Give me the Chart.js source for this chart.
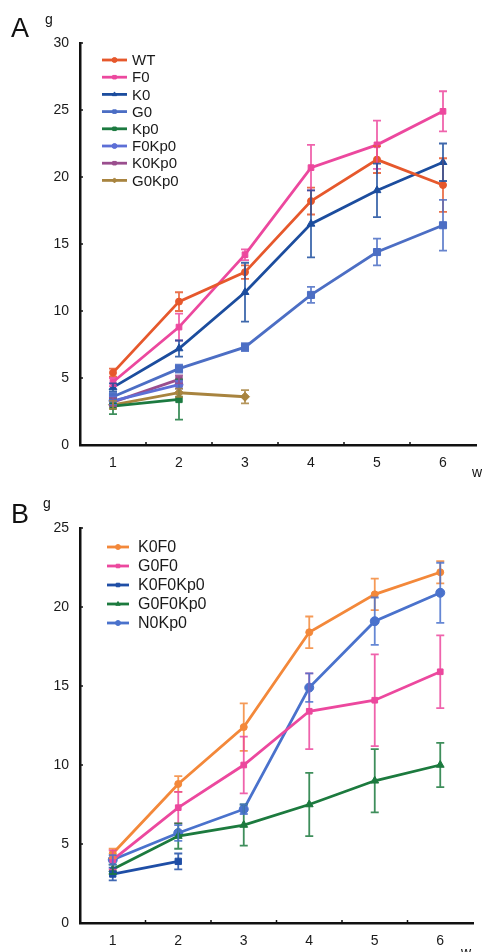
<!DOCTYPE html>
<html>
<head>
<meta charset="utf-8">
<script src="https://cdn.jsdelivr.net/npm/chart.js@4.4.0/dist/chart.umd.min.js"></script>
<style>
  html, body { margin: 0; padding: 0; background: #fff; }
  body { width: 482px; height: 952px; position: relative; overflow: hidden; }
  .box { position: absolute; left: 0; width: 482px; }
  #boxA { top: 0; height: 480px; }
  #boxB { top: 480px; height: 472px; }
</style>
</head>
<body>
<div class="box" id="boxA"><canvas id="chartA"></canvas></div>
<div class="box" id="boxB"><canvas id="chartB"></canvas></div>
<script>
// weeks on the x axis
const weeks = ['1', '2', '3', '4', '5', '6'];

// panel A: body weight (g), mean and error
const wt = [5.4, 10.7, 12.9, 18.2, 21.3, 19.4];
const wtErr = [0.3, 0.7, 0.5, 1.0, 1.0, 2.0];
const f0 = [4.7, 8.8, 14.2, 20.7, 22.4, 24.9];
const f0Err = [0.3, 1.0, 0.4, 1.7, 1.8, 1.5];
const k0 = [4.3, 7.2, 11.4, 16.5, 19.0, 21.1];
const k0Err = [0.3, 0.6, 2.2, 2.5, 2.0, 1.4];
const g0 = [3.6, 5.7, 7.3, 11.2, 14.4, 16.4];
const g0Err = [0.3, 0.3, 0.3, 0.6, 1.0, 1.9];
const kp0 = [2.9, 3.4, null, null, null, null];
const kp0Err = [0.6, 1.5, 0, 0, 0, 0];
const f0kp0 = [3.3, 4.5, null, null, null, null];
const f0kp0Err = [0.3, 0.3, 0, 0, 0, 0];
const k0kp0 = [3.2, 4.9, null, null, null, null];
const k0kp0Err = [0.3, 0.3, 0, 0, 0, 0];
const g0kp0 = [3.0, 3.9, 3.6, null, null, null];
const g0kp0Err = [0.3, 0.3, 0.5, 0, 0, 0];

// panel B
const k0f0 = [4.4, 8.8, 12.4, 18.4, 20.8, 22.2];
const k0f0Err = [0.3, 0.5, 1.5, 1.0, 1.0, 0.7];
const g0f0 = [4.0, 7.3, 10.0, 13.4, 14.1, 15.9];
const g0f0Err = [0.6, 1.0, 1.8, 2.4, 2.9, 2.3];
const k0f0kp0 = [3.1, 3.9, null, null, null, null];
const k0f0kp0Err = [0.4, 0.5, 0, 0, 0, 0];
const g0f0kp0 = [3.4, 5.5, 6.2, 7.5, 9.0, 10.0];
const g0f0kp0Err = [0.3, 0.8, 1.3, 2.0, 2.0, 1.4];
const n0kp0 = [4.0, 5.7, 7.2, 14.9, 19.1, 20.9];
const n0kp0Err = [0.3, 0.5, 0.3, 0.9, 1.5, 1.9];

const FONT = '"Liberation Sans", Arial, sans-serif';

function series(label, data, errors, color, style, radius) {
  return {
    label, data, errors,
    borderColor: color,
    backgroundColor: color,
    borderWidth: 2.8,
    pointStyle: style,
    pointRadius: radius || 4,
    pointBorderWidth: 1,
    spanGaps: false,
    tension: 0
  };
}

// vertical error bars drawn through the chart scales
const errorBars = {
  id: 'errorBars',
  afterDatasetsDraw(chart) {
    const { ctx, scales: { x, y } } = chart;
    chart.data.datasets.forEach(ds => {
      if (!ds.errors) return;
      ctx.save();
      ctx.strokeStyle = ds.borderColor;
      ctx.globalAlpha = 0.85;
      ctx.lineWidth = 1.8;
      ds.data.forEach((v, j) => {
        const e = ds.errors[j];
        if (v == null || !e) return;
        const px = x.getPixelForValue(j);
        const top = y.getPixelForValue(v + e);
        const bot = y.getPixelForValue(v - e);
        ctx.beginPath();
        ctx.moveTo(px, top); ctx.lineTo(px, bot);
        ctx.moveTo(px - 4, top); ctx.lineTo(px + 4, top);
        ctx.moveTo(px - 4, bot); ctx.lineTo(px + 4, bot);
        ctx.stroke();
      });
      ctx.restore();
    });
  }
};

// legend inside the plot, inward ticks, panel letter and unit labels
const decorations = {
  id: 'decorations',
  afterDraw(chart, args, opts) {
    const { ctx, chartArea, scales: { x, y } } = chart;
    ctx.save();
    // inward tick marks
    ctx.strokeStyle = '#111';
    ctx.lineWidth = 1.5;
    y.ticks.forEach(t => {
      const py = y.getPixelForValue(t.value);
      ctx.beginPath();
      ctx.moveTo(chartArea.left, py);
      ctx.lineTo(chartArea.left + 3, py);
      ctx.stroke();
    });
    for (let i = 1; i < weeks.length; i++) {
      const px = (x.getPixelForValue(i - 1) + x.getPixelForValue(i)) / 2;
      ctx.beginPath();
      ctx.moveTo(px, chartArea.bottom);
      ctx.lineTo(px, chartArea.bottom - 3);
      ctx.stroke();
    }
    // legend
    const lg = opts.legend;
    ctx.font = lg.size + 'px ' + FONT;
    ctx.textBaseline = 'middle';
    chart.data.datasets.forEach((ds, i) => {
      const ly = lg.y + i * lg.gap;
      ctx.strokeStyle = ds.borderColor;
      ctx.fillStyle = ds.borderColor;
      ctx.lineWidth = 2.8;
      ctx.beginPath();
      ctx.moveTo(lg.x, ly);
      ctx.lineTo(lg.x + lg.len, ly);
      ctx.stroke();
      ctx.lineWidth = 1;
      Chart.helpers.drawPoint(ctx, { pointStyle: ds.pointStyle, radius: 2.5, rotation: 0, borderWidth: 1 }, lg.x + lg.len / 2, ly);
      ctx.fillStyle = '#1a1a1a';
      ctx.fillText(ds.label, lg.x + lg.len + lg.textGap, ly + 1);
    });
    // panel letter and units
    ctx.fillStyle = '#111';
    ctx.textBaseline = 'alphabetic';
    ctx.font = '27px ' + FONT;
    ctx.fillText(opts.letter, opts.letterX, opts.letterY);
    ctx.font = '14px ' + FONT;
    ctx.fillText('g', opts.gX, opts.gY);
    ctx.fillText('w', opts.wX, opts.wY);
    ctx.restore();
  }
};

function makeChart(id, datasets, yMax, pad, xHeight, deco) {
  return new Chart(document.getElementById(id), {
    type: 'line',
    data: { labels: weeks, datasets },
    plugins: [errorBars, decorations],
    options: {
      responsive: true,
      maintainAspectRatio: false,
      animation: false,
      layout: { padding: pad },
      plugins: {
        legend: { display: false },
        tooltip: { enabled: false },
        decorations: deco
      },
      scales: {
        x: {
          type: 'category',
          offset: true,
          grid: { display: false, drawTicks: false },
          border: { display: true, color: '#111', width: 2.5 },
          ticks: { color: '#1a1a1a', padding: 10, font: { family: FONT, size: 14 } },
          afterFit(scale) { scale.height = xHeight; }
        },
        y: {
          min: 0,
          max: yMax,
          grid: { display: false, drawTicks: false },
          border: { display: true, color: '#111', width: 2.5 },
          ticks: { stepSize: 5, color: '#1a1a1a', padding: 11, font: { family: FONT, size: 14 } },
          afterFit(scale) { scale.width = 80; }
        }
      }
    }
  });
}

makeChart('chartA', [
  series('WT', wt, wtErr, '#e6582c', 'circle', 3.5),
  series('F0', f0, f0Err, '#ec489e', 'rect', 4),
  series('K0', k0, k0Err, '#1c4d9e', 'triangle', 4.5),
  series('G0', g0, g0Err, '#4c6ec4', 'rect', 5),
  series('Kp0', kp0, kp0Err, '#1c7a40', 'rect', 4.5),
  series('F0Kp0', f0kp0, f0kp0Err, '#5d6fd6', 'circle', 4),
  series('K0Kp0', k0kp0, k0kp0Err, '#9a4e8e', 'rect', 4.5),
  series('G0Kp0', g0kp0, g0kp0Err, '#a8843f', 'rectRot', 4.5)
], 30, { top: 43, right: 2, left: 0, bottom: 0 }, 35, {
  legend: { x: 102, y: 60, gap: 17.2, len: 25, textGap: 5, size: 15 },
  letter: 'A', letterX: 11, letterY: 37,
  gX: 45, gY: 24, wX: 472, wY: 477
});

makeChart('chartB', [
  series('K0F0', k0f0, k0f0Err, '#f3883a', 'circle', 3.5),
  series('G0F0', g0f0, g0f0Err, '#ec489e', 'rect', 4),
  series('K0F0Kp0', k0f0kp0, k0f0kp0Err, '#1f4ea6', 'rect', 4.5),
  series('G0F0Kp0', g0f0kp0, g0f0kp0Err, '#1c7a3e', 'triangle', 4.5),
  series('N0Kp0', n0kp0, n0kp0Err, '#4a72cc', 'circle', 4.5)
], 25, { top: 48, right: 9, left: 0, bottom: 0 }, 29, {
  legend: { x: 107, y: 67, gap: 19, len: 22, textGap: 9, size: 16 },
  letter: 'B', letterX: 11, letterY: 43,
  gX: 43, gY: 28, wX: 461, wY: 477
});
</script>
</body>
</html>
